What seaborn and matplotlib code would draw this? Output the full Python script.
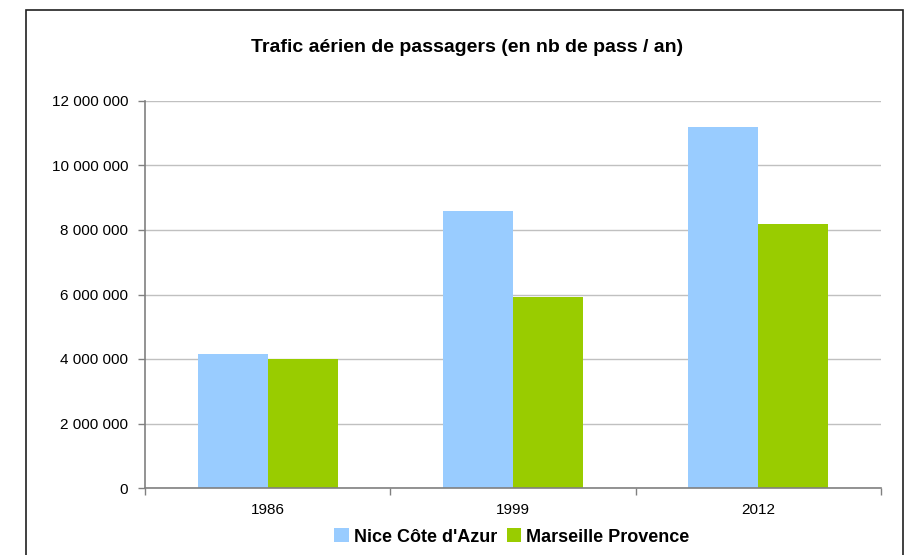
import matplotlib
matplotlib.use("Agg")
import matplotlib.pyplot as plt
import seaborn as sns
import pandas as pd
from matplotlib.patches import Rectangle
from matplotlib.ticker import FuncFormatter, FixedLocator

years = ["1986", "1999", "2012"]
nice = [4150000, 8590000, 11190000]
marseille = [4000000, 5920000, 8190000]
series_names = ["Nice Côte d'Azur", "Marseille Provence"]
colors = ["#99CCFF", "#99CC00"]
title = "Trafic aérien de passagers (en nb de pass / an)"

df = pd.DataFrame({
    "year": years * 2,
    "value": nice + marseille,
    "airport": [series_names[0]] * 3 + [series_names[1]] * 3,
})

sns.set_theme(style="white")
plt.rcParams["font.family"] = ["Liberation Sans", "DejaVu Sans"]
plt.rcParams["text.color"] = "black"

fig = plt.figure(figsize=(9.09, 5.55), dpi=100)
ax = fig.add_axes([145/909, 1-488/555, (881-145)/909, (488-101)/555])

sns.barplot(data=df, x="year", y="value", hue="airport", palette=colors,
            width=0.57, gap=0, saturation=1, ax=ax, edgecolor="none", linewidth=0)

ax.set_ylim(0, 12000000)
ax.set_xlim(-0.5, 2.5)
ax.set_yticks(range(0, 12000001, 2000000))
ax.yaxis.set_major_formatter(FuncFormatter(lambda v, p: f"{int(v):,}".replace(",", " ")))
ax.grid(axis="y", color="#C0C0C0", linewidth=1)
ax.set_axisbelow(True)
ax.set_xlabel("")
ax.set_ylabel("")
for s in ["top", "right"]:
    ax.spines[s].set_visible(False)
for s in ["left", "bottom"]:
    ax.spines[s].set_color("#808080")
    ax.spines[s].set_linewidth(1.2)
ax.tick_params(axis="y", which="major", length=5, color="#808080", width=1, left=True,
               labelsize=11, pad=7, labelcolor="black")
ax.tick_params(axis="x", which="major", length=0, labelsize=11, pad=11, labelcolor="black")
ax.xaxis.set_minor_locator(FixedLocator([-0.5, 0.5, 1.5, 2.5]))
ax.tick_params(axis="x", which="minor", length=5, color="#808080", width=1, bottom=True)

fig.text(467/909, 1-48/555, title, ha="center", va="center", fontsize=14,
         fontweight="bold", color="black")

leg = ax.legend(loc="center", bbox_to_anchor=(512/909, 1-537/555),
                bbox_transform=fig.transFigure, ncol=2, frameon=False,
                prop={"weight": "bold", "size": 13}, handlelength=0.8,
                handleheight=0.8, handletextpad=0.3, columnspacing=0.5)
for t in leg.get_texts():
    t.set_color("black")

fig.patches.append(Rectangle((26/909, -0.1), (903-26)/909, 1.1 - 10/555,
                             transform=fig.transFigure, fill=False,
                             edgecolor="#202020", linewidth=1.2, clip_on=False))

fig.savefig("out.png", dpi=100)
